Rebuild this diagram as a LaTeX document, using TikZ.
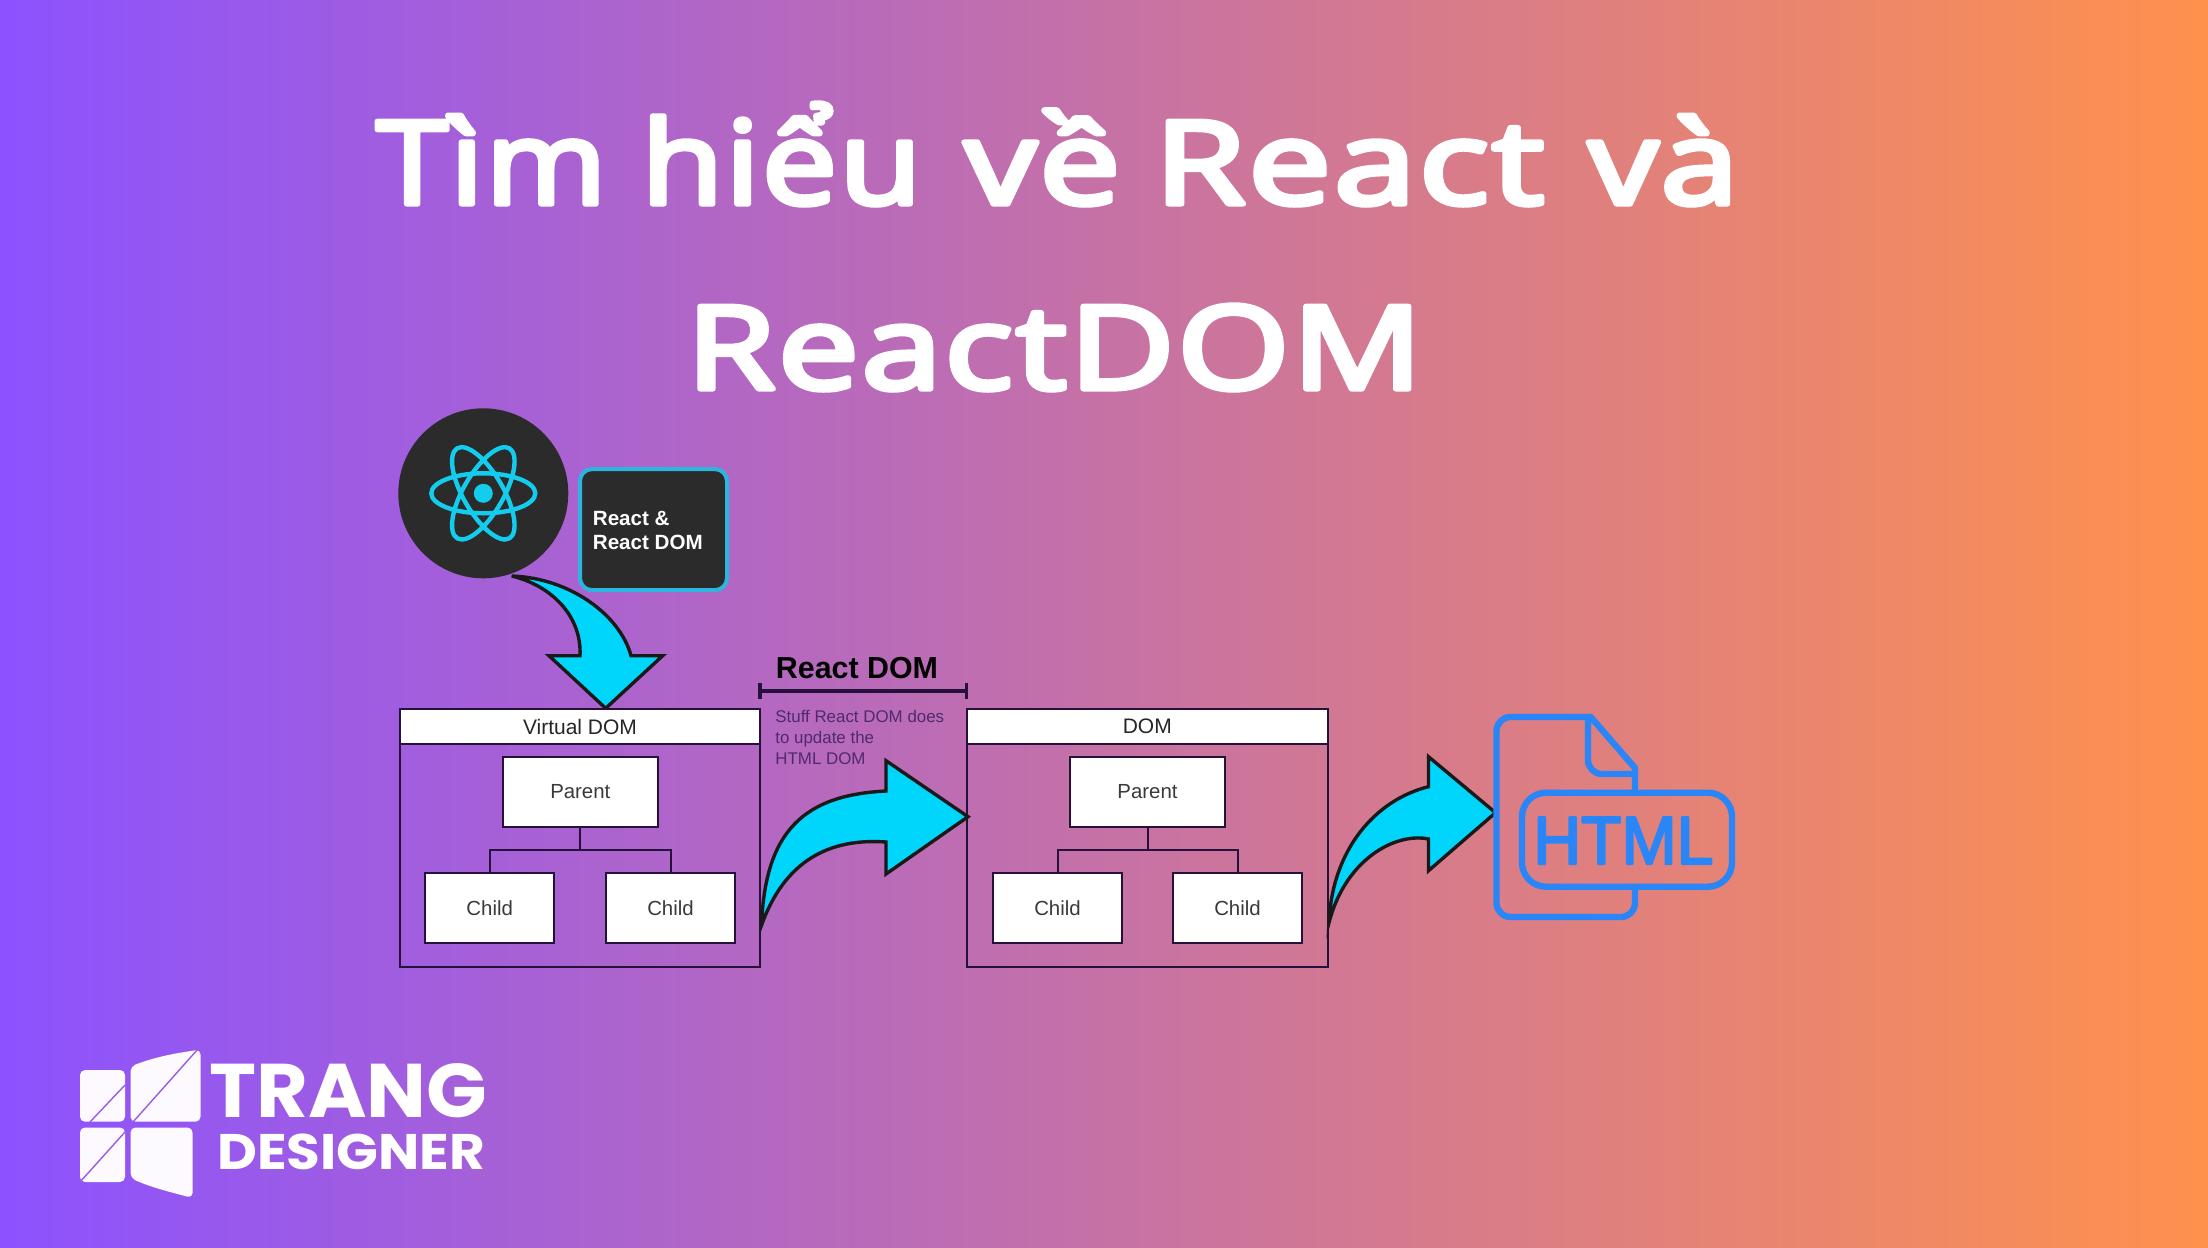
\documentclass[tikz,border=0pt]{standalone}
\usepackage{graphicx}
\usepackage{fontspec}
\setmainfont{Liberation Sans}
\newfontfamily\titlefont[LetterSpace=2]{Open Sans}
\newfontfamily\brandfont{Poppins}
\newcommand{\roundstroke}[3]{\special{pdf:code q 2 Tr 1 j 1 J #1 w #2 RG}#3\special{pdf:code Q}}
\newcommand{\titleword}[2]{\titlefont\fontsize{58}{70}\selectfont\resizebox{#1pt}{\height}{\roundstroke{2.6}{1 1 1}{#2}}}
\definecolor{bgL}{HTML}{8C52FF}
\definecolor{bgR}{HTML}{FF914D}
\definecolor{cyanA}{HTML}{00D6FB}
\definecolor{cyanL}{HTML}{14CDEE}
\definecolor{cyanB}{HTML}{2CB6DE}
\definecolor{darkP}{HTML}{2B2B2B}
\definecolor{lineD}{HTML}{26103C}
\definecolor{htmlB}{HTML}{2A86F6}
\definecolor{grayT}{HTML}{3A3A3A}
\definecolor{noteT}{HTML}{4F2A6E}
\definecolor{logoL}{HTML}{9A5CE6}
\tikzset{
  x=0.5pt,y=-0.5pt,
  whitebox/.style={draw=lineD,line width=1pt,fill=white,inner sep=0pt,text=grayT,font=\fontsize{10.2}{12}\selectfont},
  headbox/.style={draw=lineD,line width=1pt,fill=white,inner sep=0pt,text=black!85,font=\fontsize{10.5}{12}\selectfont},
  framebox/.style={draw=lineD,line width=1pt,inner sep=0pt},
  wire/.style={draw=lineD,line width=1pt},
  bigarrow/.style={draw=black!90,line width=1.7pt,fill=cyanA,line join=miter},
  orbit/.style={draw=cyanL,line width=2.2pt},
  titletext/.style={text=white,anchor=base west,inner sep=0pt},
  logopiece/.style={fill=white!97!logoL,rounded corners=2.5pt},
  logocut/.style={draw=logoL,line width=.7pt},
  htmlline/.style={draw=htmlB,line width=3.2pt,line join=round,line cap=round}
}
\begin{document}
\begin{tikzpicture}
\useasboundingbox (0,0) rectangle (2208,1248);
\shade[left color=bgL,right color=bgR] (0,0) rectangle (2208,1248);

% title
\node[titletext] (w1) at (376,204) {\titleword{115}{Tìm}};
\node[titletext] (w2) at (641,204) {\titleword{140}{hiểu}};
\node[titletext] (w3) at (964,204) {\titleword{78}{về}};
\node[titletext] (w4) at (1154,204) {\titleword{195}{React}};
\node[titletext] (w5) at (1588,204) {\titleword{75}{và}};
\node[titletext] (t2) at (686,389) {\titleword{368}{ReactDOM}};

% arrow from React circle
\path[bigarrow] (511.7,576) .. controls (570,578) and (620,615) .. (631,655.7)
  -- (662.7,655.7) -- (605.7,708.3) -- (549,655.7) -- (580,655.7)
  .. controls (582,615) and (550,585) .. (511.7,576) -- cycle;

% React circle + logo
\node[circle,fill=darkP,minimum size=85pt,inner sep=0pt] (rc) at (483.3,493.3) {};
\draw[orbit] (rc.center) ellipse [x radius=52,y radius=20];
\draw[orbit,rotate around={60:(rc.center)}] (rc.center) ellipse [x radius=52,y radius=20];
\draw[orbit,rotate around={120:(rc.center)}] (rc.center) ellipse [x radius=52,y radius=20];
\fill[cyanL] (rc.center) circle [radius=9.5];

% React box
\node[draw=cyanB,line width=2pt,fill=darkP,rounded corners=6pt,minimum width=73.5pt,minimum height=60.5pt,inner sep=0pt] (rb) at (653.5,529.6) {};
\node[anchor=base west,inner sep=0pt,text=white] (rb1) at (592.5,525) {\bfseries\fontsize{10.3}{12}\selectfont React \&};
\node[anchor=base west,inner sep=0pt,text=white] (rb2) at (592.5,549) {\bfseries\fontsize{10.3}{12}\selectfont React DOM};

% Virtual DOM
\node[framebox,minimum width=180pt,minimum height=128.7pt] (vf) at (580,838) {};
\node[headbox,minimum width=180pt,minimum height=17.4pt] (vh) at (580,726.7) {\raisebox{-1pt}{Virtual DOM}};
\node[whitebox,minimum width=77.3pt,minimum height=35pt] (vp) at (580.3,791.7) {Parent};
\node[whitebox,minimum width=64.3pt,minimum height=35pt] (vc1) at (489.7,908) {Child};
\node[whitebox,minimum width=64.5pt,minimum height=35pt] (vc2) at (670.5,908) {Child};
\coordinate (vb) at (580.3,850);
\draw[wire] (vp.south) -- (vb);
\draw[wire] (vc1.north) |- (vb) -| (vc2.north);

% DOM
\node[framebox,minimum width=180.3pt,minimum height=128.7pt] (df) at (1147.3,838) {};
\node[headbox,minimum width=180.3pt,minimum height=17.4pt] (dh) at (1147.3,726.7) {\raisebox{-1pt}{DOM}};
\node[whitebox,minimum width=77.3pt,minimum height=35pt] (dp) at (1147.5,791.7) {Parent};
\node[whitebox,minimum width=64.5pt,minimum height=35pt] (dc1) at (1057.5,908) {Child};
\node[whitebox,minimum width=64.5pt,minimum height=35pt] (dc2) at (1237.5,908) {Child};
\coordinate (db) at (1147.5,850);
\draw[wire] (dp.south) -- (db);
\draw[wire] (dc1.north) |- (db) -| (dc2.north);

% React DOM bracket and labels
\node[anchor=base,inner sep=0pt,text=black] (rl) at (857,678) {\bfseries\fontsize{15.2}{18}\selectfont React DOM};
\coordinate (bl) at (760,691);
\coordinate (br) at (966.5,691);
\draw[lineD,line width=1.7pt] (bl) -- (br);
\draw[lineD,line width=1.7pt] (760,682.7) -- (760,699);
\draw[lineD,line width=1.7pt] (966.5,682.7) -- (966.5,699);
\node[anchor=base west,inner sep=0pt,text=noteT] (n1) at (775,722.7) {\fontsize{8.45}{10}\selectfont Stuff React DOM does};
\node[anchor=base west,inner sep=0pt,text=noteT] (n2) at (775,743) {\fontsize{8.45}{10}\selectfont to update the};
\node[anchor=base west,inner sep=0pt,text=noteT] (n3) at (775,764) {\fontsize{8.45}{10}\selectfont HTML DOM};

% arrow 1
\path[bigarrow] (761.6,925) .. controls (765,830) and (805,795) .. (886,791)
  -- (886,760.7) -- (968,816.7) -- (886,874) -- (886,842)
  .. controls (830,838) and (785,860) .. (761.6,925) -- cycle;
% arrow 2
\path[bigarrow] (1329,922.7) .. controls (1332,850) and (1375,800) .. (1428.5,786.7)
  -- (1428.5,756.7) -- (1495.5,812.7) -- (1428.5,870.7) -- (1428.5,839)
  .. controls (1395,832) and (1345,860) .. (1329,922.7) -- cycle;

% HTML icon
\draw[htmlline,rounded corners=7pt] (1635,886.7) -- (1635,917) -- (1496.5,917) -- (1496.5,717) -- (1590.7,717);
\draw[htmlline] (1590.7,717) -- (1635,768) -- (1635,791.7);
\draw[htmlline,rounded corners=7pt] (1588,718) -- (1588,774) -- (1635,774);
\node[draw=htmlB,line width=3.2pt,rounded corners=12pt,minimum width=105pt,minimum height=47pt,inner sep=0pt] (hb) at (1627,839.7) {};
\node[anchor=base west,inner sep=0pt,text=htmlB] (ht) at (1533,864) {\fontsize{34}{40}\selectfont\resizebox{90pt}{\height}{\roundstroke{1.2}{0.165 0.525 0.965}{HTML}}};

% brand logo
\fill[logopiece] (80,1070) -- (125,1070) -- (125,1121.7) -- (80,1121.7) -- cycle;
\draw[logocut] (125,1085) -- (90,1122);
\fill[logopiece] (130.5,1066.5) .. controls (160,1055) and (185,1052) .. (200.5,1049.5) -- (200.5,1121.7) -- (130.5,1121.7) -- cycle;
\draw[logocut] (198,1049) -- (133,1122);
\fill[logopiece] (80,1127.5) -- (125,1127.5) -- (125,1182) -- (80,1182) -- cycle;
\draw[logocut] (125,1132) -- (80,1182);
\fill[logopiece] (130.5,1127.5) -- (192.5,1127.5) -- (192.5,1198) .. controls (170,1192) and (150,1187) .. (130.5,1178) -- cycle;

\node[titletext,text depth=0pt] (b1) at (209,1117) {\brandfont\bfseries\fontsize{38}{40}\selectfont\resizebox{139pt}{\height}{TRANG}};
\node[titletext,text height=17pt] (b2) at (217,1169) {\brandfont\bfseries\fontsize{25}{28}\selectfont\resizebox{134pt}{\height}{DESIGNER}};
\end{tikzpicture}
\end{document}
